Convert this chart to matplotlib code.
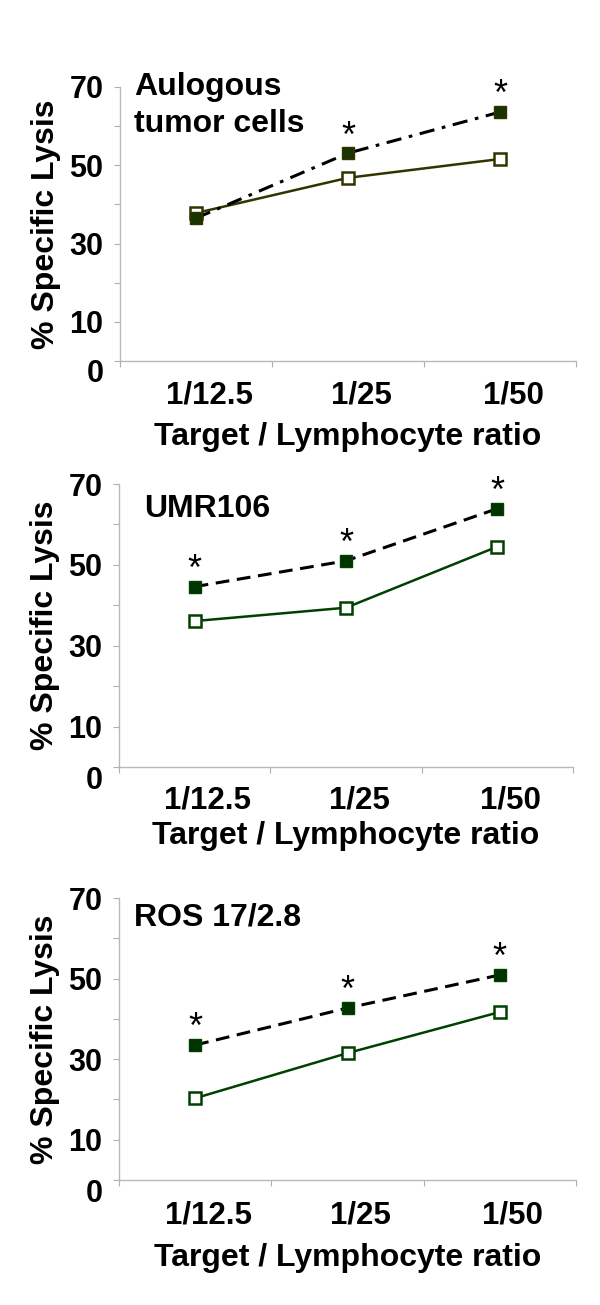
import matplotlib
matplotlib.use("Agg")
import matplotlib.pyplot as plt
from matplotlib.transforms import ScaledTranslation

plt.rcParams["font.family"] = ["Liberation Sans", "DejaVu Sans"]

RATIOS = ["1/12.5", "1/25", "1/50"]

# panel 1: autologous tumor cells
auto_open = [37.8, 46.8, 51.6]
auto_filled = [36.5, 53.1, 63.6]
auto_stars = [False, True, True]

# panel 2: UMR106
umr_open = [36.1, 39.4, 54.5]
umr_filled = [44.6, 51.0, 63.9]
umr_stars = [True, True, True]

# panel 3: ROS 17/2.8
ros_open = [20.3, 31.5, 41.7]
ros_filled = [33.5, 42.7, 50.9]
ros_stars = [True, True, True]

Y_TICKS = [0, 10, 20, 30, 40, 50, 60, 70]
Y_LABELS = ["0", "10", "", "30", "", "50", "", "70"]

W, H = 600, 1305
fig = plt.figure(figsize=(W / 100, H / 100), dpi=100)

panels = [
    dict(title="Aulogous\ntumor cells", open=auto_open, filled=auto_filled,
         stars=auto_stars, box=(120, 87, 576, 361), ls=(0, (5, 2.5, 1.2, 2.5)),
         line_col="#333300", face="#1a3300", edge="#333300",
         tick_pad=14, xlab_pad=8, title_xy=(134, 72)),
    dict(title="UMR106", open=umr_open, filled=umr_filled,
         stars=umr_stars, box=(119, 484, 573, 767), ls=(0, (4.5, 2.5)),
         line_col="#004000", face="#003300", edge="#004000",
         tick_pad=13, xlab_pad=4, title_xy=(144, 494)),
    dict(title="ROS 17/2.8", open=ros_open, filled=ros_filled,
         stars=ros_stars, box=(119, 898, 576, 1180), ls=(0, (4.5, 2.5)),
         line_col="#004000", face="#003300", edge="#004000",
         tick_pad=15, xlab_pad=9, title_xy=(134, 902)),
]

x = [0.5, 1.5, 2.5]

for p in panels:
    l, t, r, b = p["box"]
    ax = fig.add_axes([l / W, 1 - b / H, (r - l) / W, (b - t) / H])

    ax.plot(x, p["open"], color=p["line_col"], lw=1.8, marker="s",
            ms=8.5, mfc="white", mec=p["edge"], mew=1.8, zorder=3)
    ax.plot(x, p["filled"], color="black", lw=2.2, ls=p["ls"], marker="s",
            ms=8.5, mfc=p["face"], mec=p["edge"], mew=1, zorder=4)

    for xi, yi, s in zip(x, p["filled"], p["stars"]):
        if s:
            ax.annotate("*", (xi, yi), xytext=(0, -1), textcoords="offset points",
                        ha="center", va="bottom", fontsize=26)

    ax.set_xlim(0, 3)
    ax.set_ylim(0, 70)
    ax.set_xticks([0, 1, 2, 3])
    ax.set_xticklabels([])
    ax.set_xticks(x, minor=True)
    ax.set_xticklabels(RATIOS, minor=True, fontsize=22.5, fontweight="bold")
    ax.tick_params(axis="x", which="minor", length=0, pad=p["tick_pad"])
    ax.tick_params(axis="x", which="major", length=4, color="#b0b0b0")
    # category labels sit a bit right of the points in the original
    for lab in ax.get_xticklabels(minor=True):
        lab.set_transform(lab.get_transform()
                          + ScaledTranslation(0.13, 0, fig.dpi_scale_trans))
    ax.set_yticks(Y_TICKS)
    ax.set_yticklabels(Y_LABELS, fontsize=22, fontweight="bold")
    ax.tick_params(axis="y", length=4, color="#b0b0b0", pad=8)
    # the "0" label sits a little below its tick
    zero = ax.get_yticklabels()[0]
    zero.set_transform(zero.get_transform()
                       + ScaledTranslation(0, -0.10, fig.dpi_scale_trans))

    for side in ("top", "right"):
        ax.spines[side].set_visible(False)
    for side in ("left", "bottom"):
        ax.spines[side].set_color("#b8b8b8")
        ax.spines[side].set_linewidth(1)

    ax.set_ylabel("% Specific Lysis", fontsize=23, fontweight="bold", labelpad=6)
    ax.set_xlabel("Target / Lymphocyte ratio", fontsize=23, fontweight="bold",
                  labelpad=p["xlab_pad"])

    tx, ty = p["title_xy"]
    fig.text(tx / W, 1 - ty / H, p["title"], fontsize=23, fontweight="bold",
             ha="left", va="top", linespacing=1.3)

fig.savefig("out.png", dpi=100)
